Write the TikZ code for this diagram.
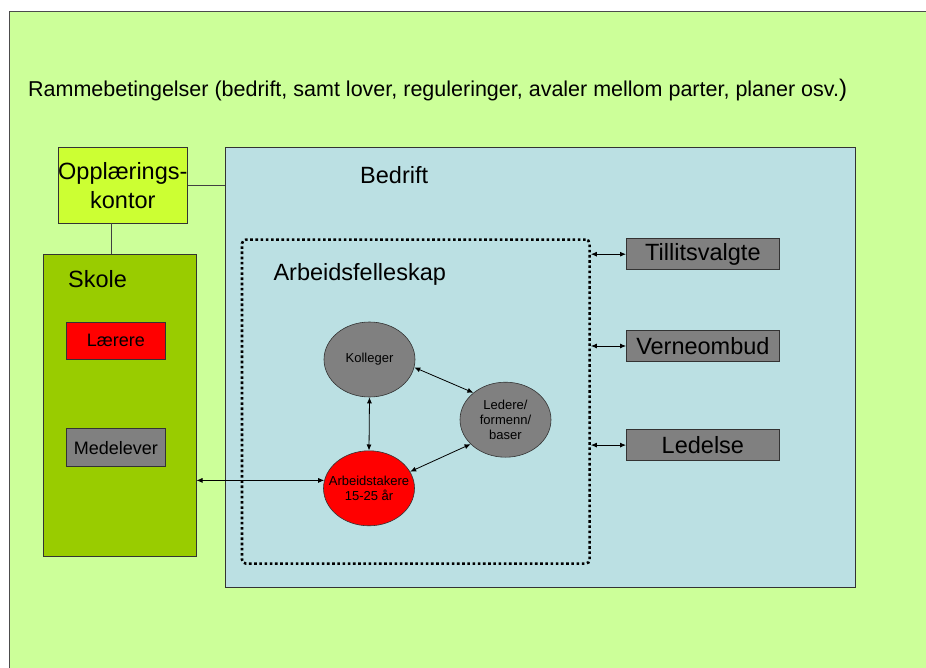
\documentclass[tikz,border=0pt]{standalone}
\usepackage{fontspec}
\setmainfont{Liberation Sans}
\usetikzlibrary{shapes.geometric, arrows.meta, positioning}
\definecolor{ramme}{HTML}{CCFF99}
\definecolor{kontor}{HTML}{CCFF33}
\definecolor{skolefarge}{HTML}{99CC00}
\definecolor{bedriftbg}{HTML}{BBE0E3}
\definecolor{graa}{HTML}{808080}
\tikzset{
    boxnode/.style={
        rectangle, draw=black!80, line width=0.8pt, inner sep=0pt, align=center
    },
    rolle/.style={
        boxnode, fill=graa, minimum width=153pt, minimum height=31pt,
        font=\fontsize{23.5}{28}\selectfont
    },
    person/.style={
        ellipse, draw=black!80, line width=0.6pt, fill=graa,
        inner xsep=-10pt, inner ysep=0pt,
        minimum width=91pt, minimum height=75pt, align=center,
        font=\fontsize{13}{15}\selectfont
    },
    dotbox/.style={
        rectangle, draw=black, line width=2.6pt, dash pattern=on 2.6pt off 2.6pt,
        rounded corners=4pt, inner sep=0pt
    },
    heading/.style={
        anchor=base west, inner sep=0pt, font=\fontsize{23.5}{28}\selectfont
    },
    dblarrow/.style={
        {Latex[length=6pt,width=5pt]}-{Latex[length=6pt,width=5pt]}, line width=0.8pt
    },
    link/.style={
        draw=black!75, line width=0.8pt
    }
}

\begin{document}
\begin{tikzpicture}[x=1pt, y=-1pt]

    \useasboundingbox (0,0) rectangle (926,668);
    \fill[white] (0,0) rectangle (926,668);
    \draw[fill=ramme, draw=black!70, line width=0.8pt] (9.5,11.5) rectangle (940,680);

    \node[heading, font=\fontsize{21.5}{26}\selectfont] (rammetxt) at (28,96.7)
        {Rammebetingelser (bedrift, samt lover, reguleringer, avaler mellom parter, planer osv.{\fontsize{24}{26}\selectfont)}};

    % bedrift og arbeidsfelleskap
    \node[boxnode, fill=bedriftbg, anchor=north west, minimum width=629.3pt, minimum height=439.4pt] (bedrift) at (225.3,147.3) {};
    \node[heading] (bedrifttxt) at (360,183.3) {Bedrift};
    \node[dotbox, anchor=north west, minimum width=347.6pt, minimum height=324pt] (felles) at (240.7,238.3) {};
    \node[heading] (fellestxt) at (273.3,280.7) {Arbeidsfelleskap};

    \node[person]           (kolleger) at (369.5,359.5) {Kolleger};
    \node[person]           (ledere)   at (505.5,419.7) {Ledere/\\formenn/\\baser};
    \node[person, fill=red] (arbtak)   at (369,488.3)   {Arbeidstakere\\15-25 år};

    % skole og opplaeringskontor
    \node[boxnode, fill=kontor, minimum width=129pt, minimum height=75.7pt, font=\fontsize{23.5}{29}\selectfont] (opl) at (122.8,185.2) {Opplærings-\\kontor};
    \node[boxnode, fill=skolefarge, anchor=north west, minimum width=152.4pt, minimum height=302.3pt] (skole) at (43.3,253.7) {};
    \node[heading] (skoletxt) at (68,287.7) {Skole};
    \node[boxnode, fill=red, anchor=north west, minimum width=99pt, minimum height=37.3pt, font=\fontsize{18}{22}\selectfont] (laerere) at (66,321.7) {Lærere};
    \node[boxnode, fill=graa, below=68.4pt of laerere, minimum width=99pt, minimum height=38pt, font=\fontsize{18}{22}\selectfont] (medelever) {Medelever};

    % tillitsvalgte, verneombud, ledelse
    \node[rolle, anchor=north west]   (tillits) at (626,238.3) {Tillitsvalgte};
    \node[rolle, below=60pt of tillits] (verne)   {Verneombud};
    \node[rolle, below=67.3pt of verne] (ledelse) {Ledelse};

    \draw[link] (opl.east) -- (opl.east -| bedrift.west);
    \draw[link] ([xshift=-11pt]opl.south) -- ([xshift=-11pt]opl.south |- skole.north);

    \draw[dblarrow] (kolleger.south) -- (arbtak.north);
    \draw[dblarrow] (kolleger.-10)   -- (ledere.140);
    \draw[dblarrow] (arbtak.22)      -- (ledere.215);
    \draw[dblarrow] (skole.east |- arbtak.170) -- (arbtak.170);

    \draw[dblarrow] (tillits.west -| felles.east) -- (tillits.west);
    \draw[dblarrow] (verne.west -| felles.east)   -- (verne.west);
    \draw[dblarrow] (ledelse.west -| felles.east) -- (ledelse.west);

\end{tikzpicture}
\end{document}
